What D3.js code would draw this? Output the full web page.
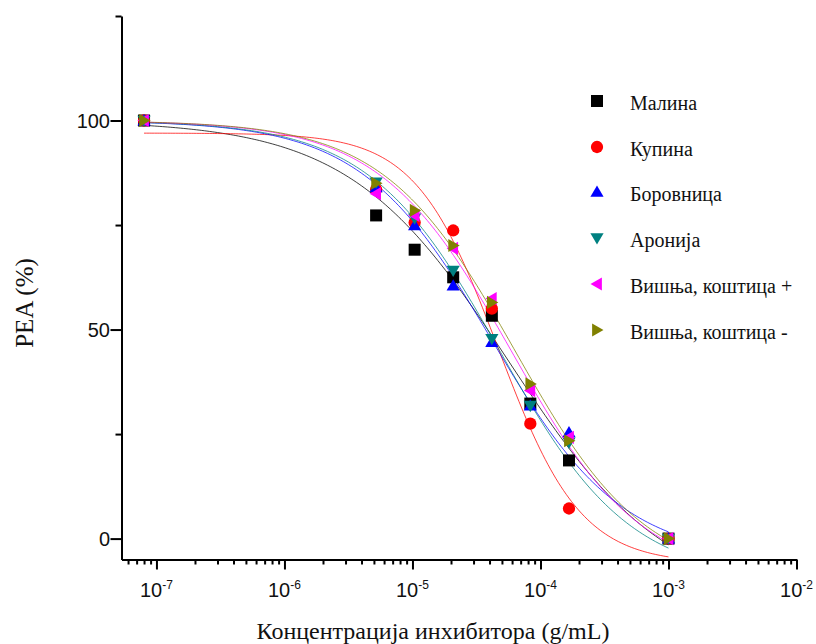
<!DOCTYPE html>
<html><head><meta charset="utf-8">
<script src="https://cdn.jsdelivr.net/npm/d3@7"></script>
<style>body{margin:0;background:#fff}svg{display:block}</style>
</head><body>
<svg id="c" width="816" height="644"></svg>
<script>
// ---- data ----
const concentrations = [8e-8, 5.2e-6, 1.04e-5, 2.08e-5, 4.17e-5, 8.33e-5, 1.67e-4, 1e-3];
const seriesNames = ["Малина", "Купина", "Боровница", "Аронија", "Вишња, коштица +", "Вишња, коштица -"];
const malina    = [100, 77.3, 69.1, 62.5, 53.3, 32.3, 18.7, 0];
const kupina    = [100, 83.5, 75.6, 73.7, 55.0, 27.5, 7.2, 0];
const borovnica = [100, 84.0, 74.9, 60.5, 47.0, 31.8, 25.4, 0];
const aronija   = [100, 85.2, 76.6, 64.1, 47.8, 31.8, 23.0, 0];
const visnjaPlus  = [100, 82.5, 77.3, 69.4, 57.4, 35.4, 24.2, 0];
const visnjaMinus = [100, 85.0, 78.5, 70.1, 56.5, 37.0, 23.4, 0];
// fitted logistic curve parameters: [top, bottom, logEC50, hill]
const fitTop    = [100, 97, 100, 100, 100, 100];
const fitBottom = [-15, -6, -5, -10, -10, -10];
const fitLogC   = [-4.25, -4.33, -4.38, -4.32, -4.23, -4.20];
const fitHill   = [0.70, 1.35, 0.85, 0.85, 0.85, 0.85];
const colors = ["#000000", "#ff0000", "#0000ff", "#008080", "#ff00ff", "#808000"];
const symbols = ["square", "circle", "up", "down", "left", "right"];
const xMajorTicks = [1e-7, 1e-6, 1e-5, 1e-4, 1e-3, 1e-2];
const xMajorExp = ["-7", "-6", "-5", "-4", "-3", "-2"];
const yMajorTicks = [0, 50, 100];
const yMinorTicks = [25, 75, 125];
const allValues = [malina, kupina, borovnica, aronija, visnjaPlus, visnjaMinus];

const svg = d3.select("#c");
const x = d3.scaleLog().domain([Math.pow(10, -7.273), 1e-2]).range([121.5, 796.5]);
const y = d3.scaleLinear().domain([-5, 125]).range([559.5, 16]);

// minor x ticks
const xMinor = [];
for (let e = -8; e <= -3; e++) for (let m = 2; m <= 9; m++) {
  const v = m * Math.pow(10, e);
  if (v >= x.domain()[0] && v <= 1e-2) xMinor.push(v);
}

const gx = svg.append("g").attr("transform", "translate(0,559.5)");
gx.call(d3.axisBottom(x).tickValues(xMajorTicks).tickSize(10).tickSizeOuter(0).tickFormat(""));
const gx2 = svg.append("g").attr("transform", "translate(0,559.5)");
gx2.call(d3.axisBottom(x).tickValues(xMinor).tickSize(5).tickSizeOuter(0).tickFormat(""));
gx2.select(".domain").remove();

const gy = svg.append("g").attr("transform", "translate(121.5,0)");
gy.call(d3.axisLeft(y).tickValues(yMajorTicks).tickSize(11).tickSizeOuter(0).tickFormat(""));
const gy2 = svg.append("g").attr("transform", "translate(121.5,0)");
gy2.call(d3.axisLeft(y).tickValues(yMinorTicks).tickSize(6).tickSizeOuter(0).tickFormat(""));
gy2.select(".domain").remove();

svg.selectAll(".domain, .tick line").attr("stroke", "#000").attr("stroke-width", 2);

// x tick labels
xMajorTicks.forEach((v, i) => {
  const t = svg.append("text").attr("x", x(v)).attr("y", 597)
    .attr("text-anchor", "middle").attr("font-family", "Liberation Sans, Arial, sans-serif")
    .attr("font-size", 20).attr("fill", "#111");
  t.append("tspan").text("10");
  t.append("tspan").attr("font-size", 12).attr("dy", -8).text(xMajorExp[i]);
});
// y tick labels
yMajorTicks.forEach(v => {
  svg.append("text").attr("x", 110).attr("y", y(v) + 7)
    .attr("text-anchor", "end").attr("font-family", "Liberation Sans, Arial, sans-serif")
    .attr("font-size", 20).attr("fill", "#111").text(v);
});

// axis titles
svg.append("text").attr("x", 433).attr("y", 639).attr("text-anchor", "middle")
  .attr("font-family", "Liberation Serif, Times New Roman, serif").attr("font-size", 24)
  .attr("fill", "#111").text("Концентрација инхибитора (g/mL)");
svg.append("text").attr("transform", "translate(33,303) rotate(-90)").attr("text-anchor", "middle")
  .attr("font-family", "Liberation Serif, Times New Roman, serif").attr("font-size", 25)
  .attr("fill", "#111").text("PEA (%)");

// curves
const curveX = d3.range(0, 201).map(i => Math.pow(10, Math.log10(8e-8) + i * (Math.log10(1e-3) - Math.log10(8e-8)) / 200));
function logistic(k, c) {
  return fitBottom[k] + (fitTop[k] - fitBottom[k]) / (1 + Math.pow(10, (Math.log10(c) - fitLogC[k]) * fitHill[k]));
}
const line = d3.line().x(d => x(d[0])).y(d => y(d[1]));

function symbolPath(type, s) {
  switch (type) {
    case "square": return d3.symbol(d3.symbolSquare, s * s)();
    case "circle": return d3.symbol(d3.symbolCircle, Math.PI * s * s / 4 * 1.05)();
    case "up": { const h = s * 0.9, w = s * 0.55; return `M0,${-h*0.6}L${w},${h*0.45}L${-w},${h*0.45}Z`; }
    case "down": { const h = s * 0.9, w = s * 0.55; return `M0,${h*0.6}L${w},${-h*0.45}L${-w},${-h*0.45}Z`; }
    case "left": { const h = s * 0.9, w = s * 0.55; return `M${-h*0.6},0L${h*0.45},${w}L${h*0.45},${-w}Z`; }
    case "right": { const h = s * 0.9, w = s * 0.55; return `M${h*0.6},0L${-h*0.45},${w}L${-h*0.45},${-w}Z`; }
  }
}

seriesNames.forEach((name, k) => {
  svg.append("path").datum(curveX.map(c => [c, logistic(k, c)]))
    .attr("d", line).attr("fill", "none").attr("stroke", colors[k]).attr("stroke-width", 1)
    .attr("stroke-opacity", 0.75);
});
seriesNames.forEach((name, k) => {
  svg.append("g").selectAll("path").data(concentrations.map((c, i) => [c, allValues[k][i]]))
    .join("path").attr("transform", d => `translate(${x(d[0])},${y(d[1])})`)
    .attr("d", symbolPath(symbols[k], 12)).attr("fill", colors[k]);
});

// legend
const legY = [101, 147, 192, 238, 284, 330];
seriesNames.forEach((name, k) => {
  svg.append("path").attr("transform", `translate(597,${legY[k]})`)
    .attr("d", symbolPath(symbols[k], 12)).attr("fill", colors[k]);
  svg.append("text").attr("x", 630).attr("y", legY[k] + 9)
    .attr("font-family", "Liberation Serif, Times New Roman, serif").attr("font-size", 20)
    .attr("fill", "#111").text(name);
});
</script>
</body></html>
